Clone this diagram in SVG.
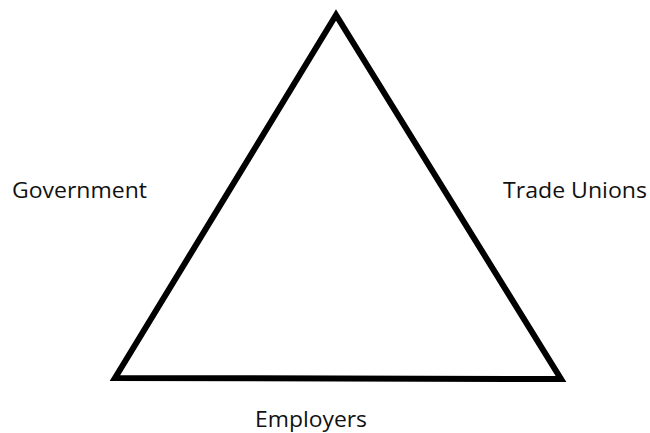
<svg xmlns="http://www.w3.org/2000/svg" width="650" height="433" viewBox="0 0 650 433">
  <style>
    .label { font-family: "Open Sans", "Noto Sans", sans-serif; font-size: 21px; font-weight: 500; fill: #111; }
    .edge { fill: none; stroke: #000; stroke-width: 6; stroke-linejoin: miter; }
  </style>
  <rect width="650" height="433" fill="#fff"/>
  <g id="connectors">
    <polygon class="edge" points="336,15 115,378 561,379"/>
  </g>
  <g id="government">
    <text class="label" x="12" y="198" textLength="135" lengthAdjust="spacingAndGlyphs">Government</text>
  </g>
  <g id="trade-unions">
    <text class="label" x="503" y="198" textLength="144" lengthAdjust="spacingAndGlyphs">Trade Unions</text>
  </g>
  <g id="employers">
    <text class="label" x="255" y="427" textLength="112" lengthAdjust="spacingAndGlyphs">Employers</text>
  </g>
</svg>
